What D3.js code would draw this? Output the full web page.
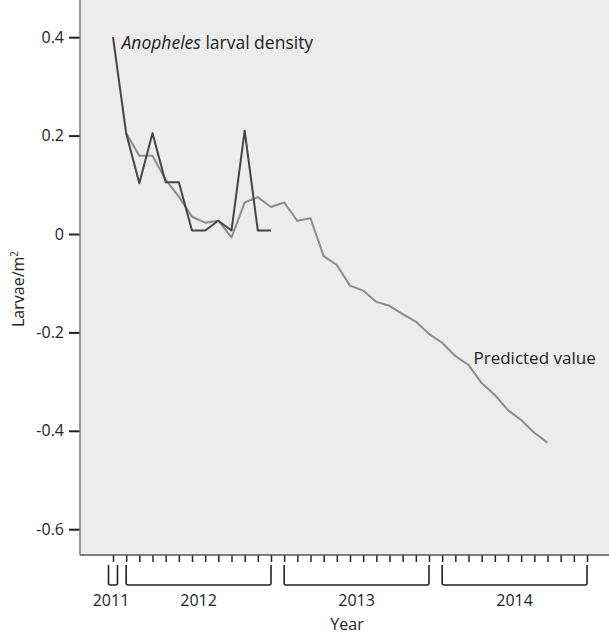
<!DOCTYPE html>
<html>
<head>
<meta charset="utf-8">
<script src="https://cdn.jsdelivr.net/npm/d3@7"></script>
<style>
  body { margin: 0; background: #fff; }
  svg { display: block; font-family: "Open Sans", sans-serif; }
</style>
</head>
<body>
<div id="vis"></div>
<script>
const width = 609;
const height = 634;

// month index 0 = Dec 2011, 36 = Dec 2014
const monthCount = 37;
const observedStart = 0;
const observed = [0.4, 0.205, 0.103, 0.205, 0.105, 0.105, 0.007, 0.007, 0.027, 0.007, 0.21, 0.007, 0.007];
const predictedStart = 1;
const predicted = [0.205, 0.159, 0.159, 0.110, 0.076, 0.035, 0.023, 0.027, -0.007, 0.064,
  0.075, 0.055, 0.064, 0.027, 0.032, -0.045, -0.063, -0.105, -0.115, -0.138,
  -0.146, -0.163, -0.178, -0.203, -0.221, -0.248, -0.266, -0.303, -0.327, -0.358,
  -0.378, -0.404, -0.424];
const yTicks = [0.4, 0.2, 0, -0.2, -0.4, -0.6];
// year brackets: [label, first month index, last month index]
const years = [["2011", 0, 0], ["2012", 1, 12], ["2013", 13, 24], ["2014", 25, 36]];

const plot = { left: 80, right: 609, top: 0, bottom: 555 };

const svg = d3.select('#vis')
    .append('svg')
    .attr('width', width)
    .attr('height', height);

const x = d3.scaleLinear().domain([0, monthCount - 1]).range([113, 587]);
const y = d3.scaleLinear().domain([-0.6, 0.4]).range([529.2, 37.2]);

// plot background
svg.append("rect")
  .attr("x", plot.left).attr("y", plot.top)
  .attr("width", plot.right - plot.left).attr("height", plot.bottom - plot.top)
  .attr("fill", "#ececec");

// y axis
const yAxis = svg.append("g")
  .attr("transform", `translate(${plot.left},0)`)
  .call(d3.axisLeft(y).tickValues(yTicks).tickSize(11).tickPadding(5)
    .tickFormat(d => d === 0 ? "0" : d3.format(".1f")(d).replace("−", "-")));
yAxis.select(".domain").remove();
yAxis.selectAll(".tick line").attr("stroke", "#222").attr("stroke-width", 2);
yAxis.selectAll(".tick text").attr("fill", "#222").style("font-size", "16px")
  .style("font-family", "'Open Sans', sans-serif");

// x axis month ticks
const xAxis = svg.append("g")
  .attr("transform", `translate(0,${plot.bottom})`)
  .call(d3.axisBottom(x).tickValues(d3.range(monthCount)).tickSize(7).tickFormat(""));
xAxis.select(".domain").remove();
xAxis.selectAll(".tick line").attr("stroke", "#222").attr("stroke-width", 1.5);

// axis lines
svg.append("line")
  .attr("x1", plot.left).attr("x2", plot.left)
  .attr("y1", plot.top).attr("y2", plot.bottom)
  .attr("stroke", "#7a7a7a").attr("stroke-width", 1.5);
svg.append("line")
  .attr("x1", plot.left).attr("x2", plot.right)
  .attr("y1", plot.bottom).attr("y2", plot.bottom)
  .attr("stroke", "#555").attr("stroke-width", 1.5);

// year brackets
const bTop = 565, bBot = 585;
years.forEach(([label, a, b]) => {
  let x1 = x(a), x2 = x(b);
  if (a === b) { x1 -= 4.5; x2 += 4.5; }
  svg.append("path")
    .attr("d", `M${x1},${bTop} L${x1},${bBot - 2} Q${x1},${bBot} ${x1 + 2},${bBot} L${x2 - 2},${bBot} Q${x2},${bBot} ${x2},${bBot - 2} L${x2},${bTop}`)
    .attr("fill", "none")
    .attr("stroke", "#222")
    .attr("stroke-width", 1.6);
  svg.append("text")
    .attr("x", (x(a) + x(b)) / 2 - (a === b ? 2 : 0))
    .attr("y", 605.5)
    .attr("text-anchor", "middle")
    .attr("fill", "#222")
    .style("font-size", "16px")
    .text(label);
});

// axis titles
svg.append("text")
  .attr("x", 347).attr("y", 630)
  .attr("text-anchor", "middle")
  .attr("fill", "#222")
  .style("font-size", "16px")
  .text("Year");

const yTitle = svg.append("text")
  .attr("transform", "translate(24,289) rotate(-90)")
  .attr("text-anchor", "middle")
  .attr("fill", "#222")
  .style("font-size", "16px");
yTitle.append("tspan").text("Larvae/m");
yTitle.append("tspan").attr("dy", -6).style("font-size", "10px").text("2");

// lines
const line = d3.line().x(d => x(d.i)).y(d => y(d.v));

svg.append("path")
  .datum(predicted.map((v, k) => ({ i: predictedStart + k, v })))
  .attr("d", line)
  .attr("fill", "none")
  .attr("stroke", "#8c8c8c")
  .attr("stroke-width", 2)
  .attr("stroke-linejoin", "round");

svg.append("path")
  .datum(observed.map((v, k) => ({ i: observedStart + k, v })))
  .attr("d", line)
  .attr("fill", "none")
  .attr("stroke", "#454545")
  .attr("stroke-width", 2)
  .attr("stroke-linejoin", "round");

// line labels
const lab1 = svg.append("text")
  .attr("x", 121.5).attr("y", 49.3)
  .attr("fill", "#222")
  .style("font-size", "17.5px");
lab1.append("tspan").style("font-style", "italic").text("Anopheles");
lab1.append("tspan").text(" larval density");

svg.append("text")
  .attr("x", 473.5).attr("y", 364.3)
  .attr("fill", "#222")
  .style("font-size", "17px")
  .text("Predicted value");
</script>
</body>
</html>
